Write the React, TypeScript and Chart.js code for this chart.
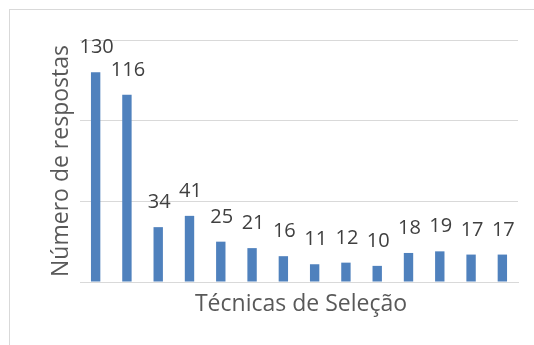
import React, { useEffect, useRef } from "react";
import { Chart, registerables } from "chart.js";

Chart.register(...registerables);

const categories: string[] = [
  "T1", "T2", "T3", "T4", "T5", "T6", "T7",
  "T8", "T9", "T10", "T11", "T12", "T13", "T14",
];
const responses: number[] = [130, 116, 34, 41, 25, 21, 16, 11, 12, 10, 18, 19, 17, 17];
const yTickValues: number[] = [0, 50, 100, 150];
const xTitle = "Técnicas de Seleção";
const yTitle = "Número de respostas";

const FONT = "'Open Sans', 'Noto Sans', sans-serif";

// Draws value labels above bars and both axis titles.
const annotatePlugin = {
  id: "annotate",
  afterDatasetsDraw(chart: any) {
    const { ctx, chartArea } = chart;
    const meta = chart.getDatasetMeta(0);
    ctx.save();
    ctx.fillStyle = "#404040";
    ctx.font = `20px ${FONT}`;
    ctx.textAlign = "center";
    ctx.textBaseline = "alphabetic";
    meta.data.forEach((bar: any, i: number) => {
      ctx.fillText(String(responses[i]), bar.x + 1, bar.y - 19);
    });

    ctx.fillStyle = "#595959";
    ctx.font = `23px ${FONT}`;
    ctx.textBaseline = "middle";
    ctx.fillText(xTitle, (chartArea.left + chartArea.right) / 2 + 2, 304);

    ctx.translate(61, (chartArea.top + chartArea.bottom) / 2);
    ctx.rotate(-Math.PI / 2);
    ctx.fillText(yTitle, 0, 0);
    ctx.restore();
  },
};

export default function App() {
  const canvasRef = useRef<HTMLCanvasElement | null>(null);

  useEffect(() => {
    if (!canvasRef.current) return;
    const chart = new Chart(canvasRef.current, {
      type: "bar",
      data: {
        labels: categories,
        datasets: [
          {
            data: responses,
            backgroundColor: "#4F81BD",
            borderWidth: 0,
            barPercentage: 0.3,
            categoryPercentage: 1,
          },
        ],
      },
      options: {
        responsive: false,
        animation: false,
        layout: { padding: { left: 80, top: 40, right: 16, bottom: 63 } },
        plugins: { legend: { display: false }, tooltip: { enabled: false } },
        scales: {
          x: {
            ticks: { display: false },
            grid: { display: false, drawTicks: false },
            border: { display: true, color: "#d9d9d9", width: 1 },
          },
          y: {
            min: 0,
            max: 150,
            afterBuildTicks: (axis: any) => {
              axis.ticks = yTickValues.map((v) => ({ value: v }));
            },
            ticks: { display: false },
            grid: { color: "#d9d9d9", lineWidth: 1, drawTicks: false },
            border: { display: false },
          },
        },
      },
      plugins: [annotatePlugin],
    });
    return () => chart.destroy();
  }, []);

  return (
    <div
      style={{
        position: "absolute",
        left: 0,
        top: 0,
        width: 534,
        height: 345,
        overflow: "hidden",
        background: "#fff",
      }}
    >
      <div
        style={{
          position: "absolute",
          left: 9,
          top: 9,
          width: 700,
          height: 500,
          border: "1px solid #d9d9d9",
        }}
      />
      <canvas
        ref={canvasRef}
        width={534}
        height={345}
        style={{ position: "absolute", left: 0, top: 0 }}
      />
    </div>
  );
}
